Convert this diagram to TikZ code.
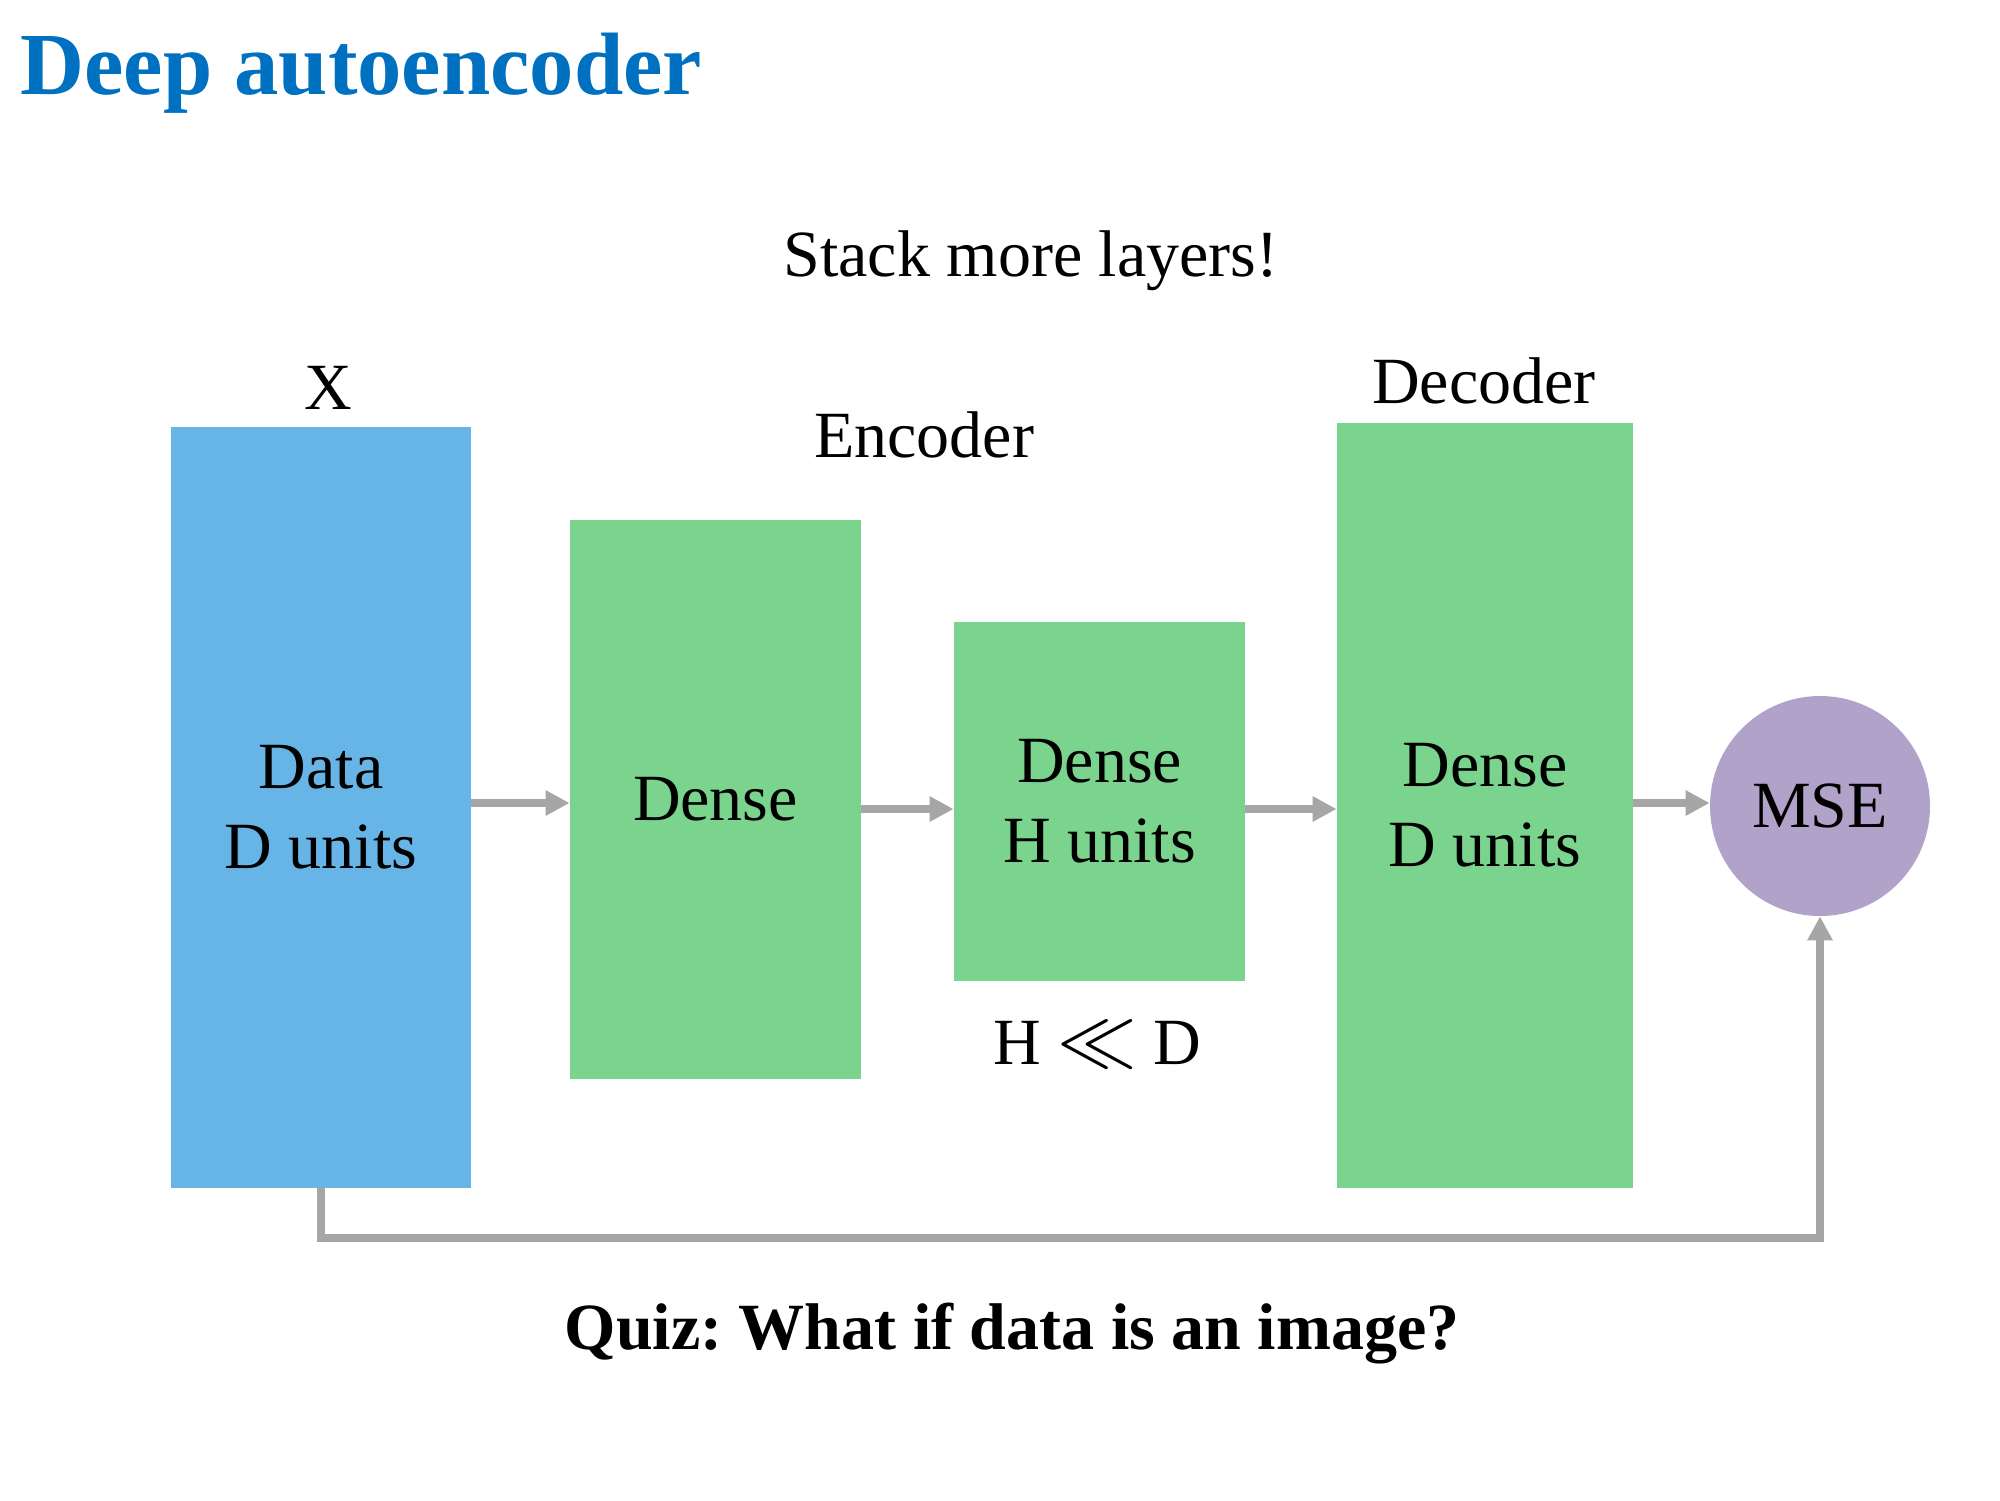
\documentclass[tikz,border=0pt]{standalone}
\usepackage{fontspec}
\usepackage{graphicx}
\setmainfont{Liberation Serif}
\usetikzlibrary{arrows.meta}
\definecolor{titleblue}{HTML}{0070C0}
\definecolor{databox}{HTML}{67B4E6}
\definecolor{greenbox}{HTML}{7AD48E}
\definecolor{msepurple}{HTML}{B0A2C8}
\definecolor{arrowgray}{HTML}{A6A6A6}
\frenchspacing
\begin{document}
\begin{tikzpicture}[x=0.5pt,y=-0.5pt,
  txt/.style={font=\fontsize{33pt}{40pt}\selectfont, inner sep=0pt},
  boxbase/.style={rectangle, inner sep=0pt, align=center, font=\fontsize{33pt}{40pt}\selectfont},
  bluebox/.style={boxbase, fill=databox},
  gbox/.style={boxbase, fill=greenbox},
  msecircle/.style={circle, fill=msepurple, inner sep=0pt, minimum size=110pt, font=\fontsize{33pt}{40pt}\selectfont},
  arr/.style={draw=arrowgray, line width=3.75pt, -{Triangle[length=12pt,width=12pt]}},
]
\useasboundingbox (0,0) rectangle (2000,1500);
\fill[white] (0,0) rectangle (2000,1500);

% title
\node[anchor=base west, inner sep=0pt, text=titleblue, font=\fontsize{44.3pt}{52pt}\selectfont\bfseries] (title) at (20,94) {Deep autoencoder};

% headings
\node[txt, anchor=base] (stack) at (1031,276) {Stack more layers!};
\node[txt, anchor=base] (xlab) at (328,409) {X};
\node[txt, anchor=base] (enc) at (924,457) {Encoder};
\node[txt, anchor=base] (dec) at (1484,403) {Decoder};

% boxes
\node[bluebox, minimum width=150pt, minimum height=380.5pt] (data) at (321,807.5) {Data\\D units};
\node[gbox, minimum width=145.5pt, minimum height=279.5pt] (dense1) at (715.5,799.5) {Dense};
\node[gbox, minimum width=145.5pt, minimum height=179.5pt] (denseH) at (1099.5,801.5) {Dense\\H units};
\node[gbox, minimum width=148pt, minimum height=382.5pt] (denseD) at (1485,805.5) {Dense\\D units};
\node[msecircle] (mse) at (1820,806) {MSE};

\node[txt, anchor=base] (hd) at (1097,1064) {H \scalebox{1.6}{$\ll$} D};

% arrows
\coordinate (r1) at (0,803);
\coordinate (r2) at (0,809);
\coordinate (fb) at (0,1238);
\draw[arr] (data.east |- r1) -- (dense1.west |- r1);
\draw[arr] (dense1.east |- r2) -- (denseH.west |- r2);
\draw[arr] (denseH.east |- r2) -- (denseD.west |- r2);
\draw[arr] (denseD.east |- r1) -- (mse.west |- r1);
\draw[arr] (data.south) |- (fb -| mse.south) -- (mse.south);

% quiz
\node[anchor=base, inner sep=0pt, font=\fontsize{33pt}{40pt}\selectfont\bfseries] (quiz) at (1012,1349) {Quiz: What if data is an image?};
\end{tikzpicture}
\end{document}
